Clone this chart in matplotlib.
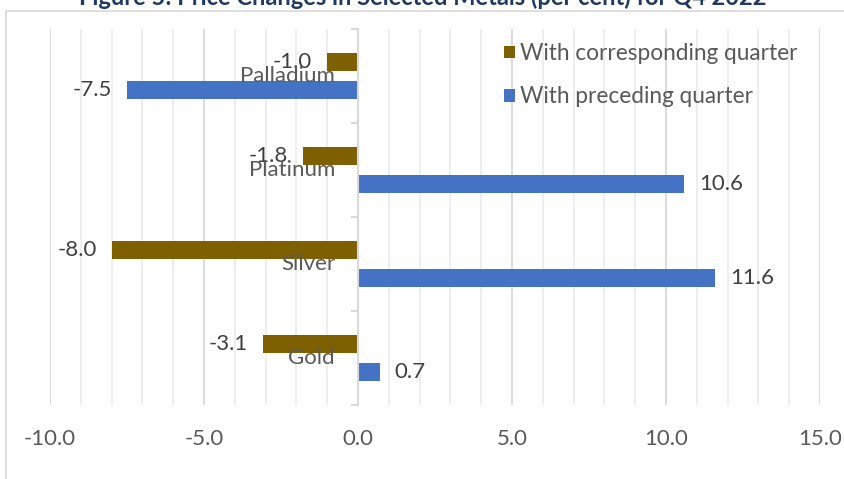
import matplotlib.pyplot as plt
from matplotlib.patches import Rectangle
from matplotlib.ticker import MultipleLocator, FormatStrFormatter

# Price changes (per cent), Q4 2022
metals = ['Gold', 'Silver', 'Platinum', 'Palladium']
corresponding = [-3.1, -8.0, -1.8, -1.0]
preceding = [0.7, 11.6, 10.6, -7.5]

brown = '#7F6000'
blue = '#4472C4'
grey_text = '#595959'
label_text = '#404040'

plt.rcParams['font.family'] = ['Lato', 'DejaVu Sans']

fig = plt.figure(figsize=(8.45, 4.79), dpi=100)
W, H = 845, 479
ax = fig.add_axes([50 / W, (H - 405) / H, (820 - 50) / W, (405 - 29) / H])

# chart border and title
fig.patches.append(Rectangle((6 / W, -0.1), 1.2, 1 - 11 / H + 0.1, transform=fig.transFigure,
                             fill=False, edgecolor='#D9D9D9', lw=1.2))
fig.text(0.5, 1 - 5 / H, 'Figure 5: Price Changes in Selected Metals (per cent) for Q4 2022',
         ha='center', va='baseline', fontsize=17, color='#1F3864', fontweight='bold')

y = range(len(metals))
off = 0.149
h = 0.19
b1 = ax.barh([i + off for i in y], corresponding, height=h, color=brown,
             label='With corresponding quarter', zorder=3)
b2 = ax.barh([i - off for i in y], preceding, height=h, color=blue,
             label='With preceding quarter', zorder=3)

# data labels
for bars, vals in ((b1, corresponding), (b2, preceding)):
    for bar, v in zip(bars, vals):
        yc = bar.get_y() + bar.get_height() / 2
        ax.annotate(f'{v:.1f}', (v, yc), xytext=(15 if v > 0 else -15, 0),
                    textcoords='offset pixels', ha='left' if v > 0 else 'right',
                    va='center', fontsize=16, color=label_text, zorder=5)

# category names sit beside the zero axis
for i, name in enumerate(metals):
    ax.annotate(name, (0, i), xytext=(-23, 0), textcoords='offset pixels',
                ha='right', va='center', fontsize=16, color=grey_text, zorder=5)

ax.set_xlim(-10, 15)
ax.set_ylim(-0.5, len(metals) - 0.5)
ax.xaxis.set_major_locator(MultipleLocator(5))
ax.xaxis.set_minor_locator(MultipleLocator(1))
ax.xaxis.set_major_formatter(FormatStrFormatter('%.1f'))
ax.grid(axis='x', which='major', color='#D9D9D9', lw=1.3, zorder=0)
ax.grid(axis='x', which='minor', color='#EDEDED', lw=1.3, zorder=0)
ax.set_axisbelow(True)
ax.tick_params(axis='x', which='both', length=0, pad=17, labelsize=16, labelcolor=grey_text)

for s in ('top', 'right', 'bottom'):
    ax.spines[s].set_visible(False)
ax.spines['left'].set_position(('data', 0))
ax.spines['left'].set_color('#D9D9D9')
ax.spines['left'].set_linewidth(1.5)
ax.spines['left'].set_zorder(4)
ax.set_yticks([i - 0.5 for i in range(len(metals) + 1)])
ax.set_yticklabels([])
ax.tick_params(axis='y', length=5, width=1.5, color='#D9D9D9')

ax.legend(loc='upper left', bbox_to_anchor=(495 / W, 1 - 34 / H), bbox_transform=fig.transFigure,
          frameon=False, fontsize=16.3, labelcolor=grey_text, handlelength=0.5, handleheight=0.5,
          handletextpad=0.2, labelspacing=0.98, borderaxespad=0)

fig.savefig('out.png', dpi=100)
